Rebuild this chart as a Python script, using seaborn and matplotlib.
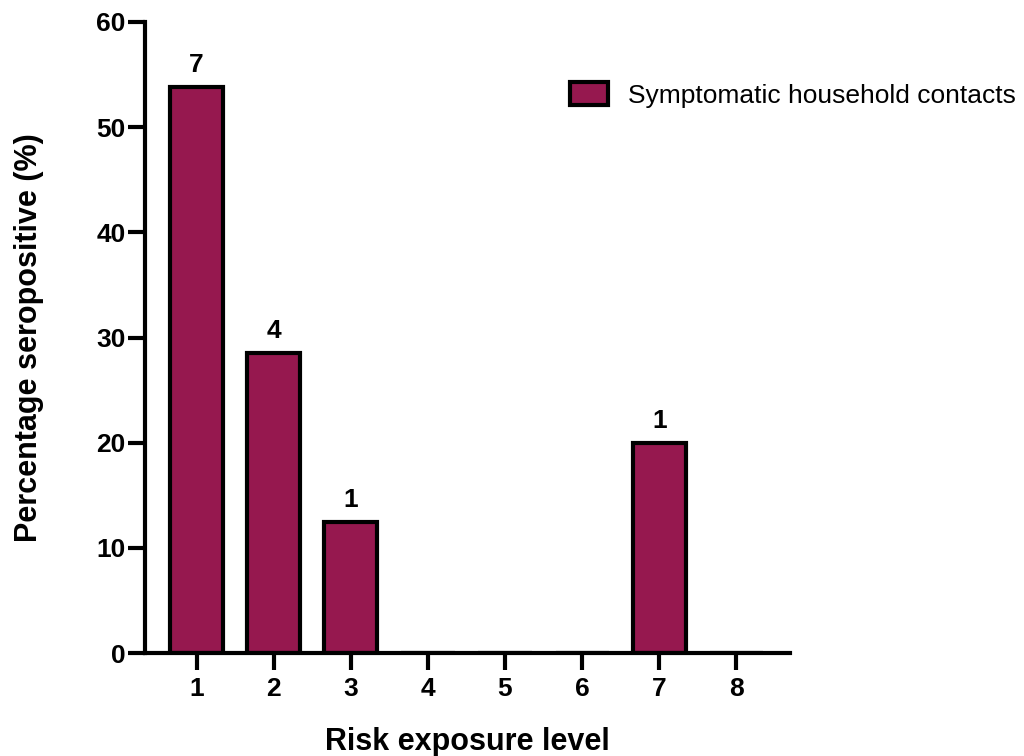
import matplotlib
matplotlib.use("Agg")
import matplotlib.pyplot as plt
import seaborn as sns
import pandas as pd
from matplotlib.patches import Patch

# Seropositivity among symptomatic household contacts by risk exposure level
levels = ["1", "2", "3", "4", "5", "6", "7", "8"]
percent_seropositive = [53.85, 28.57, 12.5, 0, 0, 0, 20.0, 0]
positive_counts = [7, 4, 1, None, None, None, 1, None]
series_name = "Symptomatic household contacts"
bar_color = "#96184F"

sns.set_theme(style="ticks")
plt.rcParams["font.family"] = ["Liberation Sans", "DejaVu Sans"]
for key in ("text.color", "axes.labelcolor", "xtick.color", "ytick.color",
            "axes.edgecolor"):
    plt.rcParams[key] = "black"

df = pd.DataFrame({"level": levels, "pct": percent_seropositive})

fig = plt.figure(figsize=(10.24, 7.56), dpi=100)
ax = fig.add_axes([0.1416, 0.1362, 0.6294, 0.8347])

sns.barplot(data=df, x="level", y="pct", order=levels, color=bar_color,
            saturation=1, width=0.69, edgecolor="black", linewidth=3,
            ax=ax)

# count of seropositive contacts written above each non-empty bar
for i, (v, n) in enumerate(zip(percent_seropositive, positive_counts)):
    if n is not None:
        ax.text(i, v + 0.9, str(n), ha="center", va="bottom",
                fontsize=19, fontweight="bold", color="black")

ax.set_xlim(-0.67, 7.69)
ax.set_ylim(0, 60)
ax.set_yticks(range(0, 61, 10))

for side in ("top", "right"):
    ax.spines[side].set_visible(False)
for side in ("left", "bottom"):
    ax.spines[side].set_linewidth(3)
    ax.spines[side].set_color("black")

ax.tick_params(axis="both", which="major", length=12, width=3,
               color="black", labelcolor="black", labelsize=19,
               direction="out")
ax.tick_params(axis="x", pad=5)
ax.tick_params(axis="y", pad=2)
for lbl in ax.get_xticklabels() + ax.get_yticklabels():
    lbl.set_fontweight("bold")

ax.set_xlabel("Risk exposure level", fontsize=22, fontweight="bold",
              va="center")
ax.set_ylabel("Percentage seropositive (%)", fontsize=22, fontweight="bold",
              va="center")
ax.xaxis.set_label_coords(0.5, -0.141)
ax.yaxis.set_label_coords(-0.18, 0.5)

handle = Patch(facecolor=bar_color, edgecolor="black", linewidth=3)
fig.legend([handle], [series_name], loc="center left",
           bbox_to_anchor=(0.5566, 0.8743), frameon=False, fontsize=19,
           handlelength=1.44, handleheight=0.91, handletextpad=0.76,
           borderpad=0, borderaxespad=0)

fig.savefig("out.png", dpi=100)
